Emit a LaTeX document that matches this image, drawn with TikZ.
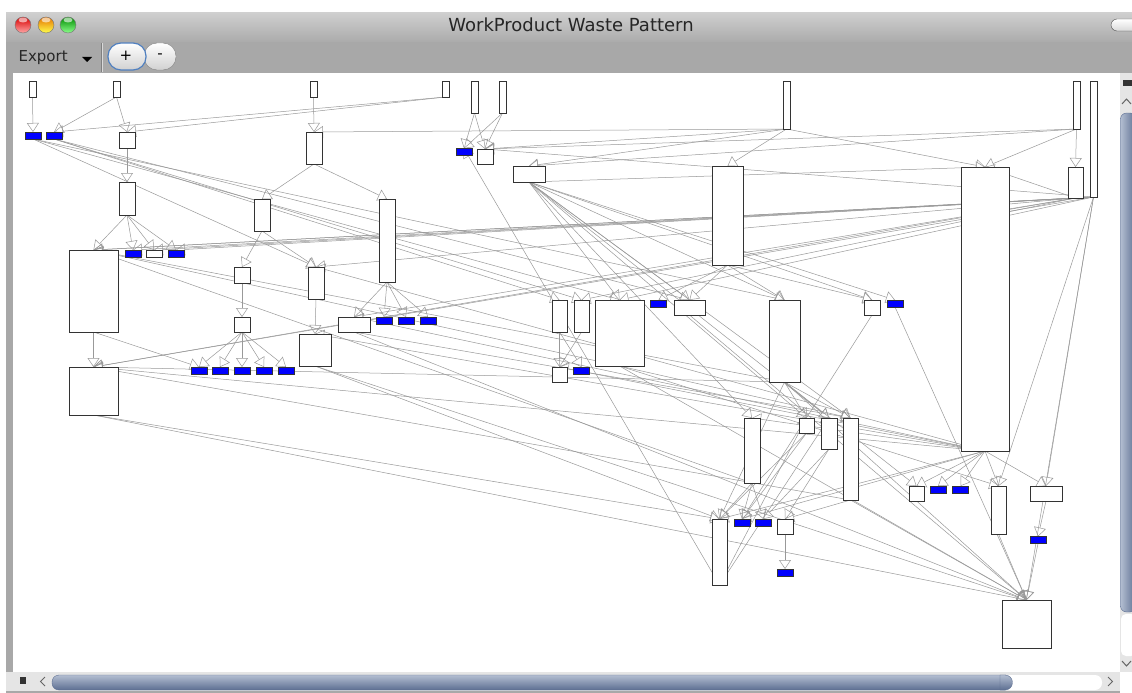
\documentclass[tikz,border=0pt]{standalone}
\usepackage{fontspec}
\setmainfont{DejaVu Sans}
\usetikzlibrary{arrows.meta}
\pgfdeclarelayer{bg}
\pgfdeclarelayer{lines}
\pgfsetlayers{bg,lines,main}
\definecolor{thumb}{RGB}{128,146,178}
\definecolor{thumbdk}{RGB}{92,110,145}
\definecolor{focus}{RGB}{80,128,192}

\begin{document}
\begin{tikzpicture}
  [x=1pt,y=-1pt,
  wb/.style 2 args={draw=black!80,fill=white,line width=0.9pt,inner sep=0pt,outer sep=0pt,
    minimum width=#1,minimum height=#2},
  bb/.style={wb={16}{7},fill=blue},
  link/.style={draw=black!40,line width=0.5pt,-{Triangle[open,length=9pt,width=12pt]}},
  light/.style 2 args={draw=black!55,line width=0.4pt,top color=#1,bottom color=#2},
  ]
  \useasboundingbox (0,0) rectangle (1132,693);

  % window frame, title bar and toolbar
  \begin{pgfonlayer}{bg}
    \fill[white] (0,0) rectangle (1132,693);
    \fill[black!34] (6,13) rectangle (1132,693);
    \shade[top color=black!19,bottom color=black!33] (6,13) rectangle (1132,42);
    \fill[white] (13,73) rectangle (1120,672);
    % vertical scroll bar
    \fill[black!10] (1120,73) rectangle (1132,672);
    \fill[black!80] (1123,80) rectangle (1132,86);
    \draw[black!60,line width=1pt] (1122,104) -- (1126.5,99) -- (1131,104);
    \shade[left color=thumb!60,right color=thumbdk,rounded corners=6pt,draw=thumbdk]
      (1120.5,113) rectangle (1136,612);
    \fill[white,rounded corners=5pt] (1121,614) rectangle (1136,656);
    \draw[black!60,line width=1pt] (1122,661) -- (1126.5,666) -- (1131,661);
    % horizontal scroll bar
    \fill[black!10] (6,672) rectangle (1120,691);
    \fill[white] (1120,672) rectangle (1132,693);
    \fill[black!80] (20,677) rectangle (26,684);
    \draw[black!60,line width=1pt] (45,677) -- (40.5,681.5) -- (45,686);
    \shade[top color=thumb!60,bottom color=thumbdk,rounded corners=7pt,draw=thumbdk]
      (52,675) rectangle (1012,690);
    \fill[white,rounded corners=7pt] (1000,675) rectangle (1102,690);
    \shade[top color=thumb!60,bottom color=thumbdk,draw=thumbdk]
      (1000,675) -- (1005,675) arc[start angle=90,end angle=-90,radius=7.5pt] -- (1000,690) -- cycle;
    \draw[black!60,line width=1pt] (1108,677) -- (1112.5,681.5) -- (1108,686);
  \end{pgfonlayer}

  \shade[light={red!85!black}{red!35!white}] (23,25) circle (8);
  \shade[light={orange!90!black}{yellow!70!white}] (46,25) circle (8);
  \shade[light={green!55!black}{green!45!white}] (68,25) circle (8);
  \fill[white,opacity=0.6] (23,20) ellipse (4.5 and 2.5);
  \fill[white,opacity=0.6] (46,20) ellipse (4.5 and 2.5);
  \fill[white,opacity=0.6] (68,20) ellipse (4.5 and 2.5);
  \shade[top color=white,bottom color=black!15,draw=black!70,rounded corners=6pt]
    (1111,19) rectangle (1145,31);
  \node[font=\fontsize{18}{18}\selectfont,text=black!85] (title) at (571,25) {WorkProduct Waste Pattern};

  \node[anchor=west,font=\fontsize{15}{15}\selectfont,text=black!85] (export) at (15,57.5) {Export};
  \fill[black] (82,57) -- (92,57) -- (87,62) -- cycle;
  \draw[black!50] (101,43) -- (101,72);
  \draw[black!15] (102.5,43) -- (102.5,72);
  \shade[top color=white,bottom color=black!18,draw=black!50,rounded corners=13pt]
    (144,43) rectangle (176,70);
  \shade[top color=white,bottom color=black!18,draw=focus,line width=1.2pt,rounded corners=13pt]
    (108,43) rectangle (146,70);
  \node[font=\fontsize{15}{15}\selectfont] (plus) at (126,56) {+};
  \node[font=\fontsize{15}{15}\selectfont] (minus) at (160,56) {-};

  % work products
  \node[wb={7}{16}] (t1) at (32.5,89) {};
  \node[wb={7}{16}] (t2) at (116.5,89) {};
  \node[wb={7}{16}] (t3) at (313.5,89) {};
  \node[wb={7}{16}] (t4) at (445.5,89) {};
  \node[wb={7}{32}] (t5) at (474.5,97) {};
  \node[wb={7}{32}] (t6) at (502.5,97) {};
  \node[wb={7}{48}] (t7) at (786.5,105) {};
  \node[wb={7}{48}] (t8) at (1076.5,105) {};
  \node[wb={7}{116}] (t9) at (1093.5,139) {};

  \node[bb] (b1) at (33,135.5) {};
  \node[bb] (b2) at (54,135.5) {};
  \node[wb={16}{16}] (a1) at (127,140) {};
  \node[wb={16}{32}] (a2) at (314,148) {};
  \node[bb] (b3) at (464,152) {};
  \node[wb={16}{15}] (a3) at (485,156.5) {};
  \node[wb={32}{16}] (a4) at (529,174) {};
  \node[wb={31}{99}] (a5) at (727.5,215.5) {};
  \node[wb={48}{284}] (a6) at (985,309) {};
  \node[wb={15}{31}] (a7) at (1075.5,182.5) {};

  \node[wb={16}{33}] (a8) at (127,198.5) {};
  \node[wb={16}{32}] (a9) at (262,215) {};
  \node[wb={16}{83}] (a10) at (387,240.5) {};
  \node[wb={49}{82}] (a11) at (93.5,291) {};
  \node[bb] (b4) at (133,253.5) {};
  \node[wb={16}{7}] (w2) at (154,253.5) {};
  \node[bb] (b5) at (176,253.5) {};
  \node[wb={16}{16}] (a12) at (242,275) {};
  \node[wb={16}{32}] (a13) at (316,283) {};

  \node[wb={16}{15}] (a14) at (242,324.5) {};
  \node[wb={32}{15}] (a15) at (354,324.5) {};
  \foreach \n/\x in {6/384,7/406,8/428}
    \node[bb] (b\n) at (\x,320.5) {};
  \node[wb={32}{32}] (a16) at (315,350) {};
  \node[wb={15}{32}] (a17) at (559.5,316) {};
  \node[wb={15}{32}] (a18) at (581.5,316) {};
  \node[wb={49}{66}] (a19) at (619.5,333) {};
  \node[bb] (b9) at (658.5,303.5) {};
  \node[wb={31}{15}] (a20) at (689.5,307.5) {};
  \node[wb={31}{82}] (a21) at (784.5,341) {};
  \node[wb={16}{15}] (a22) at (872,307.5) {};
  \node[bb] (b10) at (895,303.5) {};

  \node[wb={49}{48}] (a23) at (93.5,391) {};
  \foreach \n/\x in {11/199,12/220,13/242,14/264,15/286}
    \node[bb] (b\n) at (\x,370.5) {};
  \node[wb={15}{15}] (a24) at (559.5,374.5) {};
  \node[bb] (b16) at (581.5,370.5) {};

  \node[wb={16}{65}] (a25) at (752,450.5) {};
  \node[wb={15}{15}] (a26) at (806.5,425.5) {};
  \node[wb={16}{31}] (a27) at (829,433.5) {};
  \node[wb={15}{82}] (a28) at (850.5,459) {};
  \node[wb={15}{15}] (a29) at (916.5,493.5) {};
  \node[bb] (b17) at (938,489.5) {};
  \node[bb] (b18) at (960.5,489.5) {};
  \node[wb={15}{48}] (a30) at (998.5,510) {};
  \node[wb={32}{15}] (a31) at (1046,493.5) {};
  \node[bb] (b19) at (1038,540) {};

  \node[wb={15}{66}] (a32) at (719.5,552) {};
  \node[bb] (b20) at (742,522.5) {};
  \node[bb] (b21) at (763.5,522.5) {};
  \node[wb={16}{15}] (a33) at (785,526.5) {};
  \node[bb] (b22) at (785,572.5) {};
  \node[wb={49}{48}] (a34) at (1026.5,624) {};

  % dependencies
  \begin{pgfonlayer}{lines}
    \foreach \s/\t in {t1/b1,t2/b2,t2/a1,t3/a2,t4/b2,t4/a1,t5/b3,t5/a3,t6/b3,t6/a3,
        t7/a3,t7/a4,t7/a5,t7/a6,t7/a2,t8/a7,t8/a6,t8/a3,t8/a4,
        t9/a11,t9/b4,t9/b5,t9/a23,t9/a19,t9/a30,t9/a31,t9/a34,t9/a3,
        a7/w2,a7/a11,a7/a23,a7/a13,a7/a18,a7/a15,a7/a6,
        a1/a8,a8/a11,a8/b4,a8/w2,a8/b5,a2/a9,a2/a10,a9/a12,a9/a13,a12/a14,
        a14/b11,a14/b12,a14/b13,a14/b14,a14/b15,a13/a16,
        a10/a15,a10/b6,a10/b7,a10/b8,a11/a23,a11/b11,
        b1/a13,b2/a17,b2/a18,b1/a19,b1/a21,b2/a20,
        a4/a6,a4/a20,a4/a21,a4/a22,a4/b10,a4/a25,a4/a26,a4/a27,a4/a28,a4/a19,
        a5/a20,a5/a21,a5/b9,a5/a22,
        a17/a24,a17/b16,a18/a24,
        a19/a34,a19/a28,a19/a11,a19/a30,
        a21/a26,a21/a27,a21/a28,a21/a34,a21/a29,a21/a11,a21/a23,a21/a32,
        a20/a34,a22/b20,b10/a34,
        a6/a29,a6/b17,a6/b18,a6/a30,a6/a31,a6/a23,a6/a25,a6/a32,a6/b20,a6/a24,
        a6/a16,a6/a15,a6/a13,
        a31/b19,b19/a34,a30/a34,a28/a34,
        a25/b20,a25/b21,a25/a32,a26/b20,a26/a32,a27/b21,a27/a33,a28/a33,a33/b22,
        a32/a26,a32/a27,a32/b3,a28/a23,a25/a11,
        a16/a34,a16/a32,a23/a32,a23/a34,a15/a28,a15/a34}
      \draw[link] (\s.south) -- (\t.north);
  \end{pgfonlayer}
\end{tikzpicture}
\end{document}
